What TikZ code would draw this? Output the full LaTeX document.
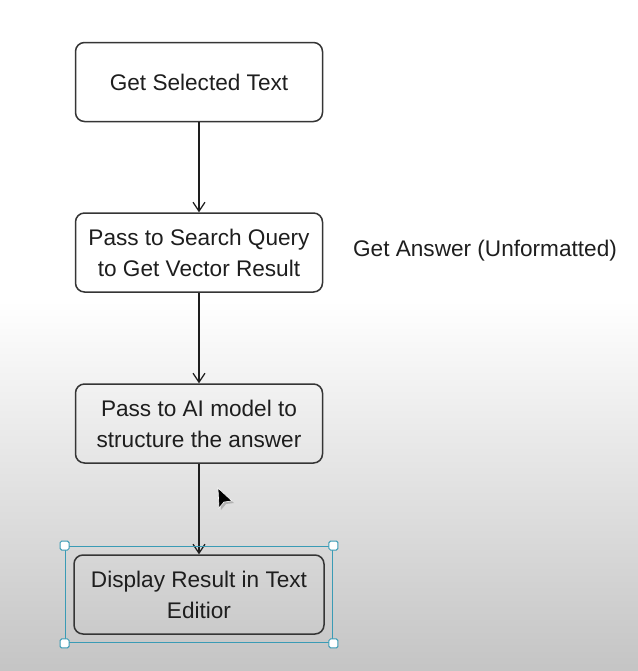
\documentclass[tikz,border=0pt]{standalone}
\usepackage{fontspec}
\setmainfont{Liberation Sans}
\usepackage{xcolor}
\usetikzlibrary{arrows.meta, positioning, fit}
\definecolor{selblue}{HTML}{3A9BB5}
\definecolor{inkgray}{HTML}{1E1E1E}
\begin{document}
\begin{tikzpicture}[x=0.5pt, y=-0.5pt,
  stepbox/.style={draw=inkgray!90, line width=0.75pt, rounded corners=4.5pt,
    minimum width=123.5pt, minimum height=39.5pt, align=center, text=inkgray,
    font=\fontsize{11.3}{15.5}\selectfont},
  flow/.style={-{Straight Barb[length=4.5pt, width=6pt]}, draw=inkgray, line width=0.6pt},
  handle/.style={draw=selblue, fill=white, line width=0.5pt, rounded corners=0.8pt,
    minimum size=4.5pt, inner sep=0pt}]
% background
\fill[white] (0,0) rectangle (638,300);
\shade[top color=white, bottom color=black!23] (0,300) rectangle (638,671);
\useasboundingbox (0,0) rectangle (638,671);

\node[stepbox] (sel) at (199,82) {Get Selected Text};
\node[stepbox] (query) at (199,252.5) {Pass to Search Query\\to Get Vector Result};
\node[stepbox] (model) at (199,423.5) {Pass to AI model to\\structure the answer};
\node[stepbox, minimum width=125pt] (disp) at (199,594.5) {Display Result in Text\\Editior};
\node[text=inkgray, font=\fontsize{11.3}{15.5}\selectfont] (ans) at (485,251) {Get Answer (Unformatted)};

\foreach \a/\b in {sel/query, query/model, model/disp}
  \draw[flow] (\a) -- (\b);

% selection frame
\node[draw=selblue, line width=0.7pt, fit=(disp), inner sep=4pt] (frame) {};
\foreach \c in {north west, north east, south west, south east}
  \node[handle] at (frame.\c) {};

% cursor
\fill[black!30] (220,490) -- (221,510) -- (226,504) -- (234,503) -- cycle;
\fill[black, draw=white, line width=0.3pt] (218,488) -- (219,508) -- (224,502) -- (232,501) -- cycle;
\end{tikzpicture}
\end{document}
